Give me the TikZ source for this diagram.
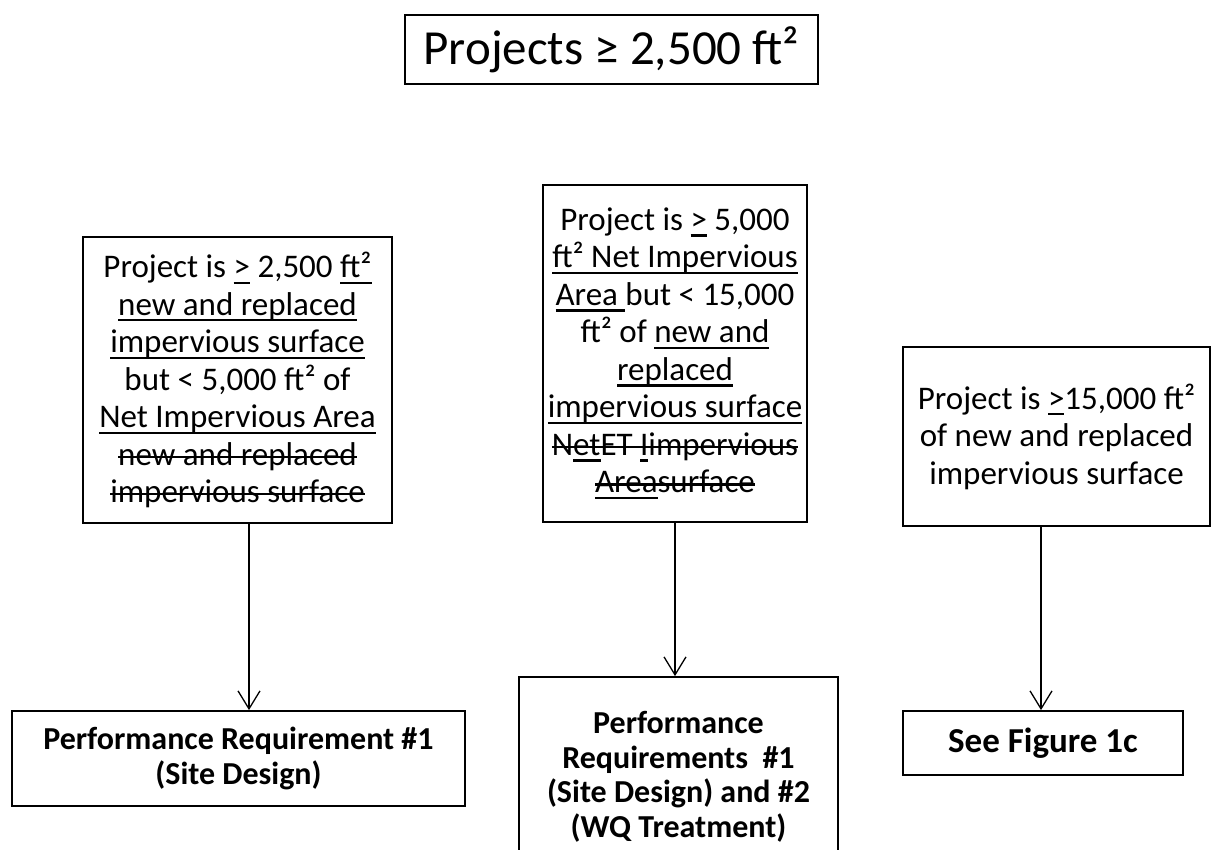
\documentclass[tikz,border=0pt]{standalone}
\usepackage{fontspec}
\setmainfont{Carlito}
\usetikzlibrary{arrows.meta,calc}
\newsavebox\ulboxA
\newsavebox\soboxA
\newcommand\UL[1]{\sbox\ulboxA{#1}\rlap{\rule[-0.19em]{\wd\ulboxA}{0.07em}}\usebox\ulboxA}
\newcommand\SO[1]{\sbox\soboxA{#1}\rlap{\rule[0.22em]{\wd\soboxA}{0.07em}}\usebox\soboxA}
\begin{document}
\begin{tikzpicture}[x=1pt,y=-1pt,
  box/.style={draw, line width=1.8pt, inner sep=0pt, align=center, text=black},
  body/.style={font=\fontsize{33}{37.5}\selectfont},
  resulttxt/.style={font=\bfseries\fontsize{32}{34.5}\selectfont},
  arr/.style={line width=1.3pt, -{Straight Barb[length=18pt,width=22pt,line width=1.3pt]}}]
\useasboundingbox (0,0) rectangle (1212,850);
\clip (0,0) rectangle (1212,850);
\fill[white] (0,0) rectangle (1212,850);

% title
\node[box, line width=1.5pt, minimum width=413, minimum height=69, font=\fontsize{49}{52}\selectfont] (title) at (611.5,49.5) {Projects ≥ 2,500 ft²};

% condition boxes
\node[box, body, minimum width=309, minimum height=286] (lb) at (237.5,380) {Project is \UL{>} 2,500 \UL{ft²}\\
\UL{new and replaced}\\
\UL{impervious surface}\\
but < 5,000 ft² of\\
\UL{Net Impervious Area}\\
\SO{new and replaced}\\
\SO{impervious surface}};

\node[box, body, minimum width=264, minimum height=337] (mb) at (675,353.5) {Project is \UL{>} 5,000\\
\UL{ft² Net Impervious}\\
\UL{Area }but < 15,000\\
ft² of \UL{new and}\\
\UL{replaced}\\
\UL{impervious surface}\\
\SO{N\UL{et}ET \UL{I}impervious}\\
\SO{\UL{Area}surface}};

\node[box, body, minimum width=307, minimum height=179] (rb) at (1056.5,436.5) {Project is \UL{>}15,000 ft²\\
of new and replaced\\
impervious surface};

% result boxes
\node[box, resulttxt, minimum width=453, minimum height=95] (lr) at (238.5,758.5) {Performance Requirement \#1\\(Site Design)};
\node[box, resulttxt, minimum width=319, minimum height=200] (mr) at (678.5,777) {Performance\\Requirements\ \ \#1\\(Site Design) and \#2\\(WQ Treatment)};
\node[box, font=\bfseries\fontsize{35}{40}\selectfont, minimum width=280, minimum height=64] (rr) at (1043,743) {See Figure 1c};

% connectors
\coordinate (a1) at ($(lb.south)+(11.5,0)$);
\coordinate (a3) at ($(rb.south)+(-15.5,0)$);
\draw[arr] (a1) -- (a1 |- lr.north);
\draw[arr] (mb.south) -- (mb.south |- mr.north);
\draw[arr] (a3) -- (a3 |- rr.north);
\end{tikzpicture}
\end{document}
